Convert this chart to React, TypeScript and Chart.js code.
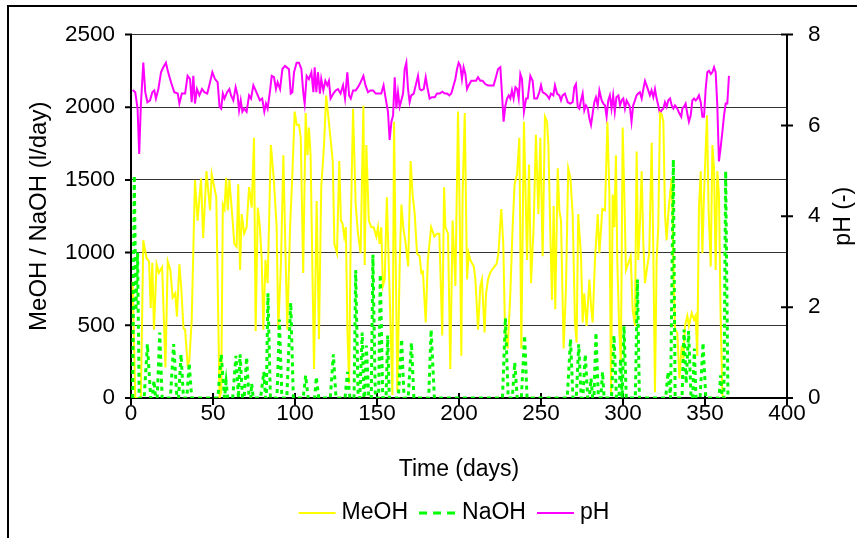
import React, { useEffect, useRef } from 'react';
import { Chart, registerables } from 'chart.js';

Chart.register(...registerables);

// [day, l/day]
const meohSeries: [number, number][] = [
  [1,800],[2.6,0],[6,0],[7.5,1085],[9.5,960],[11,940],[12,620],[13,930],[14,470],[15.6,920],[17,860],[19,900],[21,210],[22.4,940],[24,880],[25.4,690],[27,720],[28,560],[29.5,920],[30.7,750],[32,480],[33,470],[34.5,230],[35.5,250],[37,530],[39,1500],[40.6,1220],[42.7,1510],[44,1100],[46,1560],
  [48.2,1290],[49.2,1540],[51.2,1425],[52,1380],[54,0],[55,40],[56,1330],[57,1300],[58,1515],[59,1290],[60,1500],[61.8,1245],[63,1060],[64.4,1040],[65.4,1470],[66.5,880],[67.5,1265],[69,1130],[70.5,1175],[72,1450],[73.6,1310],[75,1790],[76,460],[77.3,1310],[78.6,1175],[79.7,950],[80.7,470],[82,950],[83.3,790],[85.3,1740],[87,1515],[88.8,1175],[89.8,470],[91.5,950],[92.9,1670],
  [94.3,950],[95.3,470],[97,1175],[98.4,1540],[99.8,1970],[101,1880],[102.4,1880],[103.5,1790],[105,860],[106.5,1960],[107.6,1670],[108.5,1860],[109.5,1670],[111.6,200],[113.2,1355],[114.6,405],[116,1450],[117.7,1740],[119,2080],[121,1860],[123,1630],[124,1060],[125.6,995],[127,1630],[128,1220],[129,1200],[130,1110],[131,1175],[132,450],[133,100],[134,1175],[135.4,1990],[137,1330],[138.4,1130],[140,995],[141.7,2010],
  [142.5,915],[143.5,1740],[145,1220],[146.5,1175],[148,1175],[149.6,1110],[150.6,1175],[151.6,1060],[152.6,1175],[153.6,770],[154.7,815],[156,1380],[157.7,720],[159.4,20],[160.4,1900],[161.4,950],[162.4,40],[163.9,950],[164.9,1330],[166,1175],[167.5,1060],[169,905],[170.5,1630],[171.7,1400],[173,1265],[174.4,995],[176,975],[177,860],[178,870],[179.7,520],[181,950],[183,1175],[185,1110],[186.6,1130],[188,1130],[189.8,430],
  [190.9,1450],[191.7,1175],[193.3,1130],[194.7,200],[196.1,1220],[197.8,770],[199.4,1970],[200.4,1290],[201.4,290],[202.2,1400],[203.5,1960],[204.9,815],[205.9,995],[206.9,950],[208,925],[209,905],[210,815],[211.6,470],[213,770],[214,815],[215.6,450],[216.5,720],[217.7,815],[219,860],[220,880],[221.7,905],[223,925],[224,995],[225.8,1300],[227,1060],[228,495],[229.7,340],[231.3,720],[232.7,1175],[233.9,1470],[235.4,1540],[236.8,1790],[238,340],
  [239.6,1900],[241.5,950],[242.7,1605],[243.9,790],[245.5,1175],[246.9,1810],[248.4,1265],[249.6,1790],[251,975],[252.4,1935],[253.7,1900],[254.5,1740],[255.7,1130],[256.7,675],[257.7,1320],[258.7,610],[260.2,1580],[261.2,1290],[262.2,1220],[263.8,340],[265.2,745],[266.6,1580],[267.9,1515],[269.3,1265],[270.7,520],[271.7,380],[272.7,1265],[274.4,975],[275.4,520],[276.4,720],[277.8,495],[279.5,815],[280.5,635],[281.5,520],[282.9,950],[284.6,1265],[285.6,995],[287.4,1300],
  [289,1290],[290.5,1900],[291.7,1400],[292.7,20],[293.7,1400],[294.7,1175],[295.7,1670],[296.5,950],[297.7,470],[298.7,245],[299.8,1860],[300.8,1400],[301.8,880],[303.2,925],[304.7,975],[305.9,610],[307.3,495],[308.3,1695],[309.3,950],[310.4,1220],[311.4,1560],[312.4,1060],[313.4,790],[314.8,905],[316,995],[317.5,1755],[318.5,995],[319.5,40],[320.5,950],[321.5,1175],[322.6,1960],[323.6,1950],[324.6,1900],[325.6,1265],[326.6,1085],[327.6,1265],[328.7,1400],[329.7,1515],[330.7,950],[331.7,470],[333.1,450],[334.4,135],
  [335.8,360],[336.8,270],[337.8,495],[339.2,565],[340.2,495],[341.9,585],[343.3,540],[344.3,565],[345.3,290],[346.3,1310],[347.4,1560],[348.4,995],[349.4,1400],[351.2,1945],[352.2,1290],[353.5,905],[354.5,1740],[355.5,1580],[356.5,880],[357.5,1560],[358.5,1400],[359.5,585],[360.6,20],[361.6,0],[362.6,0]
];

// [day, l/day]
const naohSeries: [number, number][] = [
  [1,0],[2,1530],[3,600],[4,1000],[5,0],[8,0],[10,370],[12,0],[13,0],[14,120],[15,0],[16,0],[17.5,450],[19,0],[24,0],[26,370],[28,0],[29,0],[30.5,300],[32,0],[34,0],[35.5,240],[37,0],
  [53,0],[55,300],[57,0],[58,110],[59,0],[62,0],[64,290],[65.5,0],[66.5,300],[68,0],[69,0],[70.5,280],[72,0],[73,0],[73.6,100],[74.5,0],[79,0],[81,180],[82,0],[82.5,0],[83.5,720],[85,0],[89,0],[90.5,540],[92,0],
  [95,0],[97.4,655],[99,0],[105,0],[106.5,155],[108,0],[112,0],[113,145],[114.5,0],[121.5,0],[123.4,300],[125,0],[130.5,0],[132,180],[133.5,0],[136,0],[137,880],[138.5,0],[139.5,0],[141,450],[142,0],
  [142.5,0],[143.5,360],[145,0],[146.5,0],[147.5,985],[149,0],[151,0],[152,850],[153.5,0],[155.5,0],[156.5,430],[157.5,0],[163,0],[165,405],[166.5,0],[169,0],[171,380],[172.5,0],[181.5,0],[183,470],[185,0],
  [226.5,0],[228.3,550],[230,0],[232.5,0],[234,245],[235.5,0],[238,0],[240,430],[241.5,0],
  [266,0],[268,405],[269.5,0],[271.5,0],[273,370],[274.5,0],[275.5,0],[277,300],[278.5,0],[279.5,0],[280.5,135],[281.5,0],[282.3,0],[283.5,450],[285,0],[286.5,0],[287.5,180],[288.5,0],
  [293,0],[294.5,430],[296,0],[297.5,0],[298.5,270],[299.5,0],[300.6,495],[302,0],[307.5,0],[308.8,815],[310,0],[326,0],[327.5,180],[329,0],[330.7,1640],[331.8,0],
  [336,0],[337.2,470],[338.5,100],[340,460],[341.5,0],[342.5,0],[343.5,340],[344.5,0],[347,0],[348.8,380],[350.5,0],[358.5,0],[359.5,155],[360.5,0],[361.5,0],[362.6,1560],[364,0]
];

// [day, pH]
const phSeries: [number, number][] = [
  [1,6.78],[2.6,6.73],[4,6.37],[5,5.37],[6,6.44],[7.5,7.38],[8.7,6.73],[10,6.51],[11.6,6.55],[13,6.73],[14.2,6.77],[15.2,6.59],[16.7,6.8],[18.3,7.17],[19.7,7.28],[21.3,7.38],[22.4,7.2],[24.4,6.95],[26.4,6.73],[28.5,6.7],[29.5,6.48],[31,6.7],[33,6.7],[34.5,7.09],[36,7.02],[37,6.51],[38,7.09],[39,6.48],[40.2,6.8],[41.7,6.66],[43.3,6.8],[44.7,6.73],[46.5,6.7],
  [48.2,6.95],[49.6,7.17],[51.2,7.02],[52.8,6.95],[54,6.41],[55,6.37],[56,6.7],[57,6.59],[58.6,6.73],[60,6.8],[61,6.66],[62.4,6.55],[63.8,6.84],[65,6.66],[65.9,6.33],[66.9,6.55],[67.9,6.3],[69,6.37],[70.5,6.3],[72,6.66],[73.2,6.59],[74.6,6.88],[76,6.77],[77.3,6.66],[78.6,6.55],[80,6.59],[81.3,6.3],[82.3,6.48],[83.3,6.37],[84.8,6.77],[85.8,7.09],[87.2,7.06],[88.4,6.8],[89.4,6.95],[90.9,6.8],[92.3,7.24],[93.9,7.31],[95.5,7.26],
  [96.3,7.24],[97.4,6.7],[98.4,6.73],[99.4,7.17],[101,7.38],[102.4,7.38],[103.9,7.24],[105.1,6.7],[105.9,6.48],[107.1,7.09],[108.5,7.02],[110,7.17],[111.2,6.73],[112,7.28],[113,6.73],[114,7.17],[115.2,6.7],[116,7.02],[117.3,6.77],[118.5,6.98],[119.7,6.88],[120.7,6.98],[121.7,6.59],[123.4,6.7],[124.8,6.77],[126.2,6.8],[127.8,6.7],[129.3,6.88],[130.5,6.59],[131.9,7.17],[133,6.66],[134,6.59],[135.4,6.77],[137,6.77],[138.4,6.84],[140,6.95],[141.7,7.09],
  [143,6.88],[144.5,6.73],[146,6.77],[147.6,6.77],[149.2,6.7],[150.6,6.7],[152.6,6.7],[154,6.88],[155.3,6.59],[156.7,6.3],[157.7,5.68],[158.8,6.08],[159.8,6.22],[160.8,7.06],[161.8,6.37],[162.8,6.73],[163.8,6.41],[164.8,6.55],[165.9,6.7],[166.9,7.24],[167.9,7.38],[168.9,6.8],[169.9,6.51],[170.9,6.66],[172.4,6.7],[173.6,6.88],[175,7.09],[176,6.8],[177,6.77],[178.5,6.8],[179.7,7.06],[180.7,6.84],[182.1,6.59],[183.5,6.62],[185.2,6.62],[186.6,6.7],[188.2,6.7],[189.8,6.74],
  [191.3,6.7],[192.7,6.7],[194.1,6.66],[195.3,6.7],[196.7,6.88],[197.8,7.02],[198.8,7.24],[199.8,7.38],[200.8,7.31],[201.8,7.02],[202.8,7.28],[203.9,7.13],[204.9,6.8],[205.9,6.88],[207.5,6.98],[208.9,6.98],[210.4,6.98],[211.6,7.06],[213,6.98],[214.4,6.98],[216,6.91],[217.7,6.88],[219,6.88],[221.1,6.88],[222.5,7.06],[223.8,7.24],[225.2,7.28],[226.2,6.7],[227.2,6.08],[228.3,6.44],[229.3,6.59],[230.3,6.66],[231.3,6.59],[232.3,6.77],[233.3,6.59],[234.4,6.84],[235.4,6.8],[236.4,6.59],[237.4,7.13],[238.4,7.02],
  [239.6,6.3],[240.9,6.59],[241.9,6.59],[243.5,7.09],[244.9,6.98],[245.9,6.59],[247.6,6.59],[249,6.73],[250,6.88],[251,6.73],[252.4,6.7],[253.7,6.66],[255,6.59],[256.1,6.7],[257.5,6.66],[258.5,6.88],[259.8,6.7],[261.2,6.66],[262.2,6.55],[263.2,6.66],[264.6,6.7],[266.3,6.51],[267.9,6.48],[269.3,6.51],[270.3,6.84],[271.3,6.91],[272.4,6.41],[273.4,6.37],[274.4,6.55],[275.4,6.7],[276.4,6.33],[277.4,6.44],[278.5,6.37],[279.5,6.15],[280.5,6.01],[281.5,6.26],[282.5,6.51],[283.5,6.62],[284.6,6.44],[285.6,6.77],
  [287,6.55],[288,6.48],[289,6.44],[290,6.19],[291,6.55],[292,6.66],[293,6.37],[294,6.66],[295,6.3],[296,6.62],[297.2,6.66],[298.2,6.44],[299.2,6.55],[300.2,6.59],[301.2,6.37],[302.2,6.55],[303.2,6.48],[304.2,6.41],[305.2,6.08],[306.2,6.44],[307.3,6.55],[308.3,6.66],[309.3,6.7],[310.3,6.73],[311.4,6.59],[312.4,6.8],[313.4,6.98],[314.4,6.88],[315.4,6.77],[316.4,6.66],[317.4,6.77],[318.5,6.62],[319.5,6.8],[320.5,6.59],[321.5,6.44],[322.5,6.26],[323.5,6.33],[324.6,6.37],[325.6,6.51],[326.6,6.41],[327.6,6.55],[328.7,6.59],[329.7,6.44],[330.7,6.37],[331.7,6.44],[333.1,6.37],[334.4,6.26],
  [335.5,6.19],[336.2,6.37],[337.2,6.41],[338.2,6.48],[339.2,6.26],[340.2,6.08],[341.3,6.22],[342.3,6.55],[343.3,6.59],[344.3,6.55],[345.3,6.59],[346.3,6.66],[347.4,6.51],[348.4,6.19],[349.4,6.19],[350.4,6.8],[351.4,7.17],[352.4,7.2],[353.5,7.13],[354.5,7.17],[355.5,7.28],[356.5,7.17],[357.5,6.44],[358.5,5.21],[359.5,5.5],[360.6,5.86],[361.6,6.22],[362.6,6.48],[363.6,6.48],[364.6,7.09]
];

const seriesLabels = ['MeOH', 'NaOH', 'pH'];
const xTitle = 'Time (days)';
const yTitle = 'MeOH / NaOH (l/day)';
const y1Title = 'pH (-)';

const FONT = '"Liberation Sans", Arial, Helvetica, sans-serif';

export default function App() {
  const ref = useRef<HTMLCanvasElement | null>(null);

  useEffect(() => {
    if (!ref.current) return;
    const toPts = (s: [number, number][]) => s.map(([x, y]) => ({ x, y }));

    const decor = {
      id: 'decor',
      beforeDatasetsDraw(chart: any) {
        const { ctx, chartArea: a, scales } = chart;
        ctx.save();
        ctx.strokeStyle = '#000';
        ctx.lineWidth = 2;
        ctx.beginPath();
        ctx.moveTo(a.left, a.top);
        ctx.lineTo(a.left, a.bottom + 6);
        ctx.moveTo(a.right, a.top);
        ctx.lineTo(a.right, a.bottom + 6);
        ctx.moveTo(a.left - 6, a.bottom);
        ctx.lineTo(a.right + 1, a.bottom);
        scales.y.ticks.forEach((t: any) => {
          const y = scales.y.getPixelForValue(t.value);
          ctx.moveTo(a.left - 6, y);
          ctx.lineTo(a.left + 1, y);
        });
        scales.y1.ticks.forEach((t: any) => {
          const y = scales.y1.getPixelForValue(t.value);
          ctx.moveTo(a.right - 6, y);
          ctx.lineTo(a.right + 6, y);
        });
        scales.x.ticks.forEach((t: any) => {
          const x = scales.x.getPixelForValue(t.value);
          ctx.moveTo(x, a.bottom - 5);
          ctx.lineTo(x, a.bottom + 7);
        });
        ctx.stroke();
        ctx.restore();
      },
      afterDraw(chart: any) {
        const { ctx, chartArea: a } = chart;
        ctx.save();
        // outer frame
        ctx.fillStyle = '#000';
        ctx.fillRect(7, 5, 2, chart.height);
        ctx.fillRect(7, 5, chart.width, 2);

        ctx.fillStyle = '#000';
        ctx.textAlign = 'center';
        ctx.textBaseline = 'middle';
        // x title
        ctx.font = `23px ${FONT}`;
        ctx.fillText(xTitle, (a.left + a.right) / 2, 470);
        // left title
        ctx.save();
        ctx.translate(39, (a.top + a.bottom) / 2);
        ctx.rotate(-Math.PI / 2);
        ctx.font = `24px ${FONT}`;
        ctx.fillText(yTitle, 0, 0);
        ctx.restore();
        // right title
        ctx.save();
        ctx.translate(844, (a.top + a.bottom) / 2);
        ctx.rotate(-Math.PI / 2);
        ctx.font = `23px ${FONT}`;
        ctx.fillText(y1Title, 0, 0);
        ctx.restore();

        // legend
        ctx.font = `23px ${FONT}`;
        const lineLen = 37;
        const gapText = 6;
        const gapItem = 11;
        const ds = chart.data.datasets;
        const widths = ds.map((d: any) => ctx.measureText(d.label).width);
        const total = widths.reduce((s: number, w: number) => s + lineLen + gapText + w, 0) + gapItem * (ds.length - 1);
        let x = 454 - total / 2;
        const ly = 513;
        ds.forEach((d: any, i: number) => {
          ctx.save();
          ctx.strokeStyle = d.borderColor;
          ctx.lineWidth = d.borderWidth;
          ctx.setLineDash(d.borderDash && d.borderDash.length ? [8, 6] : []);
          ctx.beginPath();
          ctx.moveTo(x, ly);
          ctx.lineTo(x + lineLen, ly);
          ctx.stroke();
          ctx.restore();
          ctx.textAlign = 'left';
          ctx.fillStyle = '#000';
          ctx.fillText(d.label, x + lineLen + gapText, ly);
          x += lineLen + gapText + widths[i] + gapItem;
        });
        ctx.restore();
      },
    };

    const tickFont = { family: FONT, size: 22.5 };
    const plain = (v: any) => String(v);

    const chart = new Chart(ref.current, {
      type: 'line',
      data: {
        datasets: [
          {
            label: seriesLabels[0],
            data: toPts(meohSeries),
            borderColor: '#FFFF00',
            backgroundColor: '#FFFF00',
            borderWidth: 2,
            pointRadius: 0,
            tension: 0,
            yAxisID: 'y',
            order: 1,
          },
          {
            label: seriesLabels[1],
            data: toPts(naohSeries),
            borderColor: '#00FF00',
            backgroundColor: '#00FF00',
            borderWidth: 3,
            borderDash: [4, 4],
            pointRadius: 0,
            tension: 0,
            yAxisID: 'y',
            order: 0,
          },
          {
            label: seriesLabels[2],
            data: toPts(phSeries),
            borderColor: '#FF00FF',
            backgroundColor: '#FF00FF',
            borderWidth: 2,
            pointRadius: 0,
            tension: 0,
            yAxisID: 'y1',
            order: 2,
          },
        ],
      },
      options: {
        responsive: false,
        animation: false,
        events: [],
        layout: { padding: { top: 30, left: 0, right: 0, bottom: 0 } },
        plugins: { legend: { display: false }, tooltip: { enabled: false }, title: { display: false } },
        scales: {
          x: {
            type: 'linear',
            min: 0,
            max: 400,
            ticks: { stepSize: 50, color: '#000', font: tickFont, padding: 2, maxRotation: 0, autoSkip: false, callback: plain },
            grid: { display: false, drawTicks: false },
            border: { display: false },
            afterFit: (s: any) => { s.height = 140; },
          },
          y: {
            type: 'linear',
            position: 'left',
            min: 0,
            max: 2500,
            ticks: { stepSize: 500, color: '#000', font: tickFont, padding: 16, callback: plain },
            grid: { color: '#333', lineWidth: 1, drawTicks: false },
            border: { display: false },
            afterFit: (s: any) => { s.width = 131; },
          },
          y1: {
            type: 'linear',
            position: 'right',
            min: 0,
            max: 8,
            ticks: { stepSize: 2, color: '#000', font: tickFont, padding: 21, callback: plain },
            grid: { display: false, drawTicks: false },
            border: { display: false },
            afterFit: (s: any) => { s.width = 70; },
          },
        },
      } as any,
      plugins: [decor],
    });
    return () => chart.destroy();
  }, []);

  return (
    <canvas
      ref={ref}
      width={857}
      height={538}
      style={{ position: 'fixed', left: 0, top: 0, width: 857, height: 538, display: 'block' }}
    />
  );
}
